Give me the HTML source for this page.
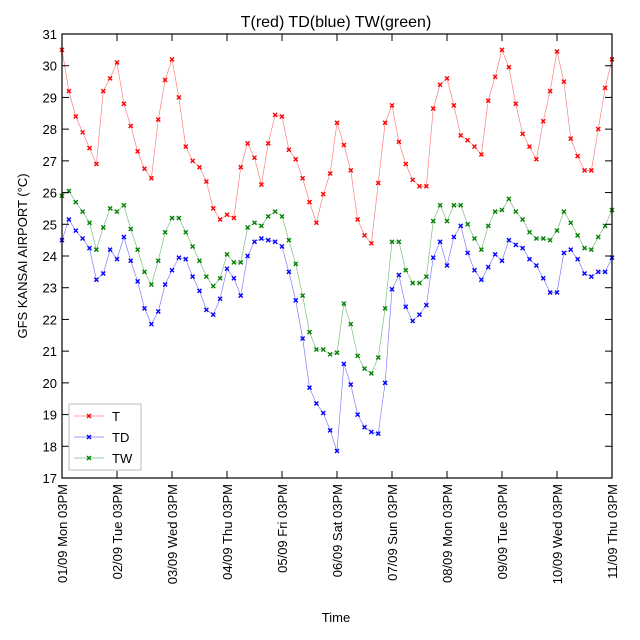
<!DOCTYPE html>
<html><head><meta charset="utf-8"><style>
html,body{margin:0;padding:0;background:#fff;width:640px;height:640px;overflow:hidden;}
svg{display:block;}
svg text{font-family:"Liberation Sans",sans-serif;fill:#000;}
</style></head><body>
<svg id="chart" width="640" height="640" viewBox="0 0 640 640" xmlns="http://www.w3.org/2000/svg">
<rect width="640" height="640" fill="#fff"/>
<text x="336" y="27" font-size="16" text-anchor="middle">T(red) TD(blue) TW(green)</text>
<text transform="translate(27,256) rotate(-90)" font-size="13" text-anchor="middle">GFS KANSAI AIRPORT (°C)</text>
<text x="336" y="622" font-size="13" text-anchor="middle">Time</text>
<g id="series"></g>
<g id="axes"></g>
<g>
<rect x="69" y="404" width="72" height="66" fill="#fff" stroke="#bbb" stroke-width="1"/>
<g id="legend-items"></g>
</g>
</svg>
<script>
const dayLabels=["01/09 Mon 03PM","02/09 Tue 03PM","03/09 Wed 03PM","04/09 Thu 03PM","05/09 Fri 03PM","06/09 Sat 03PM","07/09 Sun 03PM","08/09 Mon 03PM","09/09 Tue 03PM","10/09 Wed 03PM","11/09 Thu 03PM"];
const yTicks=[17,18,19,20,21,22,23,24,25,26,27,28,29,30,31];
const tValues=[30.5,29.2,28.4,27.9,27.4,26.9,29.2,29.6,30.1,28.8,28.1,27.3,26.75,26.45,28.3,29.55,30.2,29.0,27.45,27.0,26.8,26.35,25.5,25.15,25.3,25.2,26.8,27.55,27.1,26.25,27.55,28.45,28.4,27.35,27.05,26.45,25.7,25.05,25.95,26.6,28.2,27.5,26.7,25.15,24.65,24.4,26.3,28.2,28.75,27.6,26.9,26.4,26.2,26.2,28.65,29.4,29.6,28.75,27.8,27.65,27.45,27.2,28.9,29.65,30.5,29.95,28.8,27.85,27.45,27.05,28.25,29.2,30.45,29.5,27.7,27.15,26.7,26.7,28.0,29.3,30.2];
const tdValues=[24.5,25.15,24.8,24.55,24.25,23.25,23.45,24.2,23.9,24.6,23.85,23.2,22.35,21.85,22.25,23.1,23.55,23.95,23.9,23.35,22.9,22.3,22.15,22.65,23.6,23.3,22.75,24.0,24.45,24.55,24.5,24.45,24.3,23.5,22.6,21.4,19.85,19.35,19.05,18.5,17.85,20.6,19.95,19.0,18.6,18.45,18.4,20.0,22.95,23.4,22.4,21.95,22.15,22.45,23.95,24.45,23.7,24.6,24.95,24.1,23.55,23.25,23.65,24.05,23.85,24.5,24.35,24.25,23.9,23.7,23.3,22.85,22.85,24.1,24.2,23.9,23.45,23.35,23.5,23.5,23.95];
const twValues=[25.9,26.05,25.7,25.4,25.05,24.2,24.9,25.5,25.4,25.6,24.85,24.2,23.5,23.1,23.85,24.75,25.2,25.2,24.75,24.3,23.85,23.35,23.05,23.3,24.05,23.8,23.8,24.9,25.05,24.95,25.25,25.4,25.25,24.5,23.75,22.75,21.6,21.05,21.05,20.9,20.95,22.5,21.85,20.85,20.45,20.3,20.8,22.35,24.45,24.45,23.55,23.15,23.15,23.35,25.1,25.6,25.1,25.6,25.6,25.0,24.55,24.2,24.95,25.4,25.45,25.8,25.4,25.15,24.75,24.55,24.55,24.5,24.8,25.4,25.05,24.65,24.25,24.2,24.6,24.95,25.45];

const NS="http://www.w3.org/2000/svg";
const L=62,R=612,T=34,B=478,yMin=17,yMax=31,nSteps=80;
function xs(i){return L+(R-L)*i/nSteps;}
function xd(d){return L+(R-L)*d/(dayLabels.length-1);}
function ys(v){return B-(v-yMin)/(yMax-yMin)*(B-T);}
function mk(tag,attrs,parent){const e=document.createElementNS(NS,tag);for(const k in attrs)e.setAttribute(k,attrs[k]);parent.appendChild(e);return e;}

const sg=document.getElementById('series');
const series=[["t",tValues,"#ff0000"],["td",tdValues,"#0000ff"],["tw",twValues,"#008000"]];
series.forEach(([name,vals,col])=>{
  const pts=vals.map((v,i)=>xs(i).toFixed(2)+","+ys(v).toFixed(2)).join(" ");
  const pl=mk('polyline',{points:pts,fill:"none",stroke:col,"stroke-width":0.7,"stroke-opacity":0.5},sg);
  
  
  vals.forEach((v,i)=>{
    const x=xs(i),y=ys(v);
    const m=mk('path',{d:`M${x-2},${y-2}L${x+2},${y+2}M${x-2},${y+2}L${x+2},${y-2}`,stroke:col,"stroke-width":1.4},sg);
    
    
  });
});

const ax=document.getElementById('axes');
const fr=mk('rect',{x:L,y:T,width:R-L,height:B-T,fill:"none",stroke:"#000","stroke-width":1.2},ax);


yTicks.forEach(v=>{
  const y=ys(v);
  mk('line',{x1:L,x2:L+7,y1:y,y2:y,stroke:"#000"},ax);
  mk('line',{x1:R-7,x2:R,y1:y,y2:y,stroke:"#000"},ax);
  const t=mk('text',{x:L-5,y:y+5,"font-size":13,"text-anchor":"end"},ax);
  t.textContent=v;
  
  
});
dayLabels.forEach((lab,d)=>{
  const x=xd(d);
  mk('line',{x1:x,x2:x,y1:B,y2:B-7,stroke:"#000"},ax);
  mk('line',{x1:x,x2:x,y1:T,y2:T+7,stroke:"#000"},ax);
  const t=mk('text',{transform:`translate(${x+5},${B+6}) rotate(-90)`,"font-size":13,"text-anchor":"end"},ax);
  t.textContent=lab;
  
  
});

const lg=document.getElementById('legend-items');
[["T","#ff0000"],["TD","#0000ff"],["TW","#008000"]].forEach(([lab,col],k)=>{
  const y=416+k*21;
  mk('line',{x1:74,x2:104,y1:y,y2:y,stroke:col,"stroke-width":0.7,"stroke-opacity":0.5},lg);
  mk('path',{d:`M87,${y-2}L91,${y+2}M87,${y+2}L91,${y-2}`,stroke:col,"stroke-width":1.4},lg);
  const t=mk('text',{x:112,y:y+5,"font-size":13},lg);
  t.textContent=lab;
  
  
});
</script>
</body></html>
